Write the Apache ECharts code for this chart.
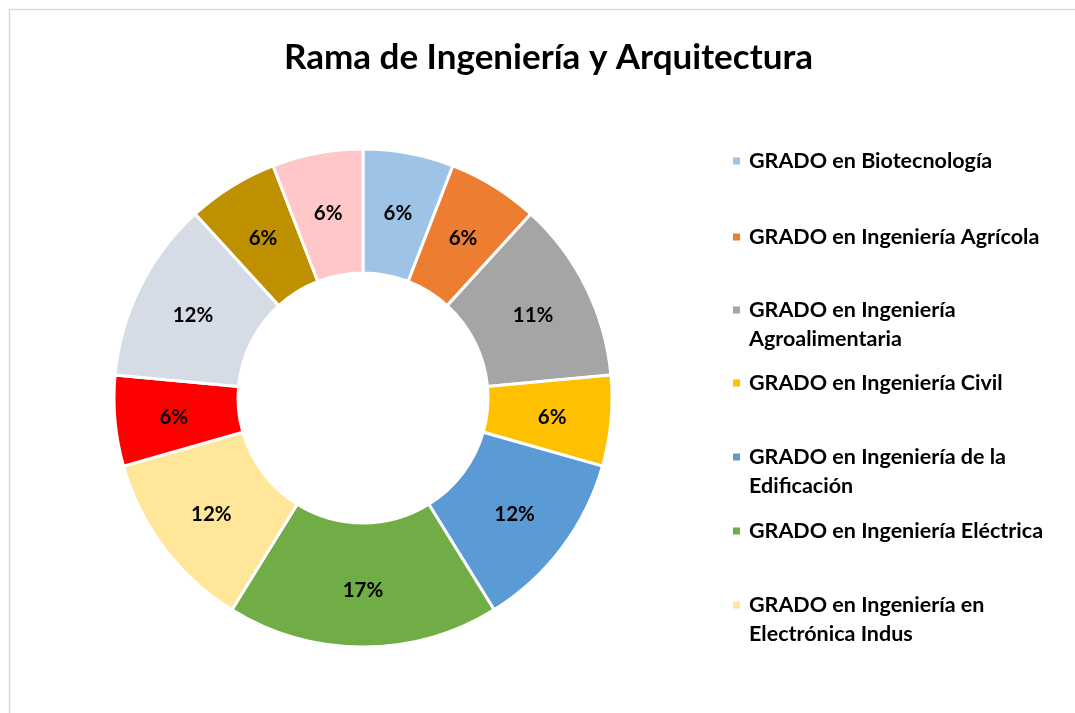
<!DOCTYPE html>
<html>
<head>
<meta charset="utf-8">
<script src="https://cdn.jsdelivr.net/npm/echarts@6/dist/echarts.min.js"></script>
<style>
  html, body { margin: 0; padding: 0; background: #fff; }
  #chart { width: 1075px; height: 713px; }
</style>
</head>
<body>
<div id="chart"></div>
<script>
// Grados de la rama (orden de los sectores, sentido horario desde arriba)
var grados = [
    'GRADO en Biotecnología',
    'GRADO en Ingeniería Agrícola',
    'GRADO en Ingeniería Agroalimentaria',
    'GRADO en Ingeniería Civil',
    'GRADO en Ingeniería de la Edificación',
    'GRADO en Ingeniería Eléctrica',
    'GRADO en Ingeniería en Electrónica Indus',
    'GRADO en Ingeniería Forestal',
    'GRADO en Ingeniería Informática',
    'GRADO en Ingeniería Mecánica',
    'GRADO en Arquitectura'
];
var valores = [1, 1, 2, 1, 2, 3, 2, 1, 2, 1, 1];
// etiquetas tal como aparecen en el gráfico
var etiquetas = ['6%', '6%', '11%', '6%', '12%', '17%', '12%', '6%', '12%', '6%', '6%'];
var colores = ['#9DC3E6', '#ED7D31', '#A5A5A5', '#FFC000', '#5B9BD5', '#70AD47',
               '#FFE699', '#FF0000', '#D6DCE5', '#BF9000', '#FFC7C7'];

// Texto de la leyenda (Excel corta en dos lineas)
var leyendaTexto = [
    'GRADO en Biotecnología',
    'GRADO en Ingeniería Agrícola',
    'GRADO en Ingeniería\nAgroalimentaria',
    'GRADO en Ingeniería Civil',
    'GRADO en Ingeniería de la\nEdificación',
    'GRADO en Ingeniería Eléctrica',
    'GRADO en Ingeniería en\nElectrónica Indus'
];
var leyendaY = [161, 237, 310, 383, 457, 531, 605];

var FONT = 'Lato';
var LINE = 29;

var chart = echarts.init(document.getElementById('chart'));

var legends = leyendaTexto.map(function (txt, i) {
    var twoLines = txt.indexOf('\n') >= 0;
    // linea vacia arriba para que el marcador quede en la primera linea
    var shown = twoLines ? '\n' + txt : txt;
    return {
        data: [grados[i]],
        orient: 'vertical',
        left: 731,
        top: twoLines ? leyendaY[i] - LINE * 1.5 : leyendaY[i] - LINE / 2,
        padding: 0,
        itemWidth: 9,
        itemHeight: 9,
        itemGap: 0,
        icon: 'rect',
        selectedMode: false,
        formatter: function () { return shown; },
        textStyle: {
            fontFamily: FONT,
            fontWeight: 'bold',
            fontSize: 21.5,
            color: '#000',
            lineHeight: LINE,
            padding: [0, 0, 0, 3]
        }
    };
});

var option = {
    backgroundColor: '#fff',
    color: colores,
    animation: false,
    title: {
        text: 'Rama de Ingeniería y Arquitectura',
        left: 279,
        top: 35,
        textStyle: {
            fontFamily: FONT,
            fontWeight: 'bold',
            fontSize: 35,
            color: '#000'
        }
    },
    legend: legends,
    graphic: [{
        type: 'rect',
        silent: true,
        shape: { x: 9.5, y: 9.5, width: 2000, height: 2000 },
        style: { fill: 'none', stroke: '#D9D9D9', lineWidth: 1.5 }
    }],
    series: [{
        name: 'Rama',
        type: 'pie',
        center: [363, 398],
        radius: [125, 249],
        startAngle: 90,
        clockwise: true,
        avoidLabelOverlap: false,
        data: grados.map(function (g, i) {
            return { name: g, value: valores[i] };
        }),
        itemStyle: {
            borderColor: '#fff',
            borderWidth: 3
        },
        label: {
            show: true,
            position: 'inside',
            offset: [0, 2],
            formatter: function (p) { return etiquetas[p.dataIndex]; },
            fontFamily: FONT,
            fontWeight: 'bold',
            fontSize: 20.5,
            color: '#000'
        },
        labelLine: { show: false },
        emphasis: { disabled: true }
    }]
};

chart.setOption(option);
</script>
</body>
</html>
